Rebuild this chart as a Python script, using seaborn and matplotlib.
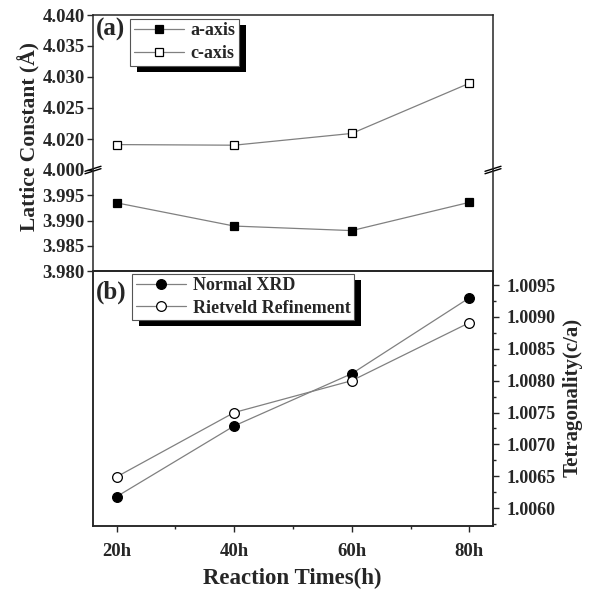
import numpy as np
import matplotlib
matplotlib.use("Agg")
import matplotlib.pyplot as plt
from matplotlib.patches import Rectangle
from matplotlib.ticker import MultipleLocator, FormatStrFormatter
import seaborn as sns

# data
times = [20, 40, 60, 80]
time_labels = ["20h", "40h", "60h", "80h"]
a_axis = [3.9935, 3.9889, 3.9880, 3.9936]
c_axis = [4.0191, 4.0190, 4.0209, 4.0290]
normal_xrd = [1.00618, 1.00729, 1.00811, 1.00930]
rietveld = [1.00649, 1.00750, 1.00800, 1.00891]

sns.set_style("ticks")
plt.rcParams["font.family"] = ["Liberation Serif", "DejaVu Serif"]
plt.rcParams["font.weight"] = "bold"
plt.rcParams["axes.linewidth"] = 1.1
plt.rcParams["xtick.direction"] = "out"
plt.rcParams["ytick.direction"] = "out"

W, H = 591, 592
fig = plt.figure(figsize=(W / 100, H / 100), dpi=100)


def px_axes(x0, y0, x1, y1):
    return fig.add_axes([x0 / W, 1 - y1 / H, (x1 - x0) / W, (y1 - y0) / H])


ax_up = px_axes(93, 15, 493, 170)
ax_lo = px_axes(93, 170, 493, 271)
ax_b = px_axes(93, 271, 493, 526)

TICK_FS = 13.5
line_kw = dict(color="#808080", linewidth=0.9, markeredgewidth=0.9, markeredgecolor="black")
leg_kw = dict(loc="upper left", frameon=True, fancybox=False, edgecolor="#555555",
              framealpha=1, prop={"size": 13, "weight": "bold"}, handlelength=2.8,
              borderpad=0.2, labelspacing=0.3, handletextpad=0.35, borderaxespad=0)

for ax in (ax_up, ax_lo):
    sns.lineplot(x=times, y=a_axis, ax=ax, marker="s", markersize=6.3,
                 markerfacecolor="black", label="a-axis", **line_kw)
    sns.lineplot(x=times, y=c_axis, ax=ax, marker="s", markersize=6.3,
                 markerfacecolor="white", label="c-axis", **line_kw)
    ax.set_xlim(16, 84)
    ax.set_xticks([])
    ax.set_xlabel("")
    ax.set_ylabel("")
    ax.tick_params(axis="y", labelsize=TICK_FS, length=4, width=1.0, pad=2)
    ax.yaxis.set_major_formatter(FormatStrFormatter("%.3f"))

ax_up.set_ylim(4.015, 4.040)
ax_up.set_yticks([4.020, 4.025, 4.030, 4.035, 4.040])
ax_up.spines["bottom"].set_visible(False)
ax_lo.set_ylim(3.980, 4.000)
ax_lo.set_yticks([3.980, 3.985, 3.990, 3.995, 4.000])
ax_lo.spines["top"].set_visible(False)
ax_lo.get_legend().remove()

# break marks
for xa in (0, 1):
    for dy in (-0.012, 0.012):
        ax_lo.plot([xa - 0.02, xa + 0.02], [1 + dy - 0.025, 1 + dy + 0.025],
                   transform=ax_lo.transAxes, color="black", lw=1.0, clip_on=False)

leg_a = ax_up.legend(bbox_to_anchor=(0.093, 0.975), **leg_kw)
leg_a.get_frame().set_linewidth(0.8)
ax_up.text(0.008, 0.87, "(a)", transform=ax_up.transAxes, fontsize=18, fontweight="bold")

fig.text(29 / W, 1 - 137 / H, "Lattice Constant (Å)", rotation=90, ha="center", va="center",
         fontsize=15.5, fontweight="bold")

# bottom panel
axr = ax_b.twinx()
ax_b.set_yticks([])
sns.lineplot(x=times, y=normal_xrd, ax=axr, marker="o", markersize=7,
             markerfacecolor="black", label="Normal XRD", **line_kw)
sns.lineplot(x=times, y=rietveld, ax=axr, marker="o", markersize=7,
             markerfacecolor="white", label="Rietveld Refinement", **line_kw)
axr.set_ylim(1.00572, 1.00972)
axr.yaxis.set_major_locator(MultipleLocator(0.0005))
axr.yaxis.set_minor_locator(MultipleLocator(0.00025))
axr.yaxis.set_major_formatter(FormatStrFormatter("%.4f"))
axr.tick_params(axis="y", which="major", labelsize=13, length=4, width=1.0, pad=6)
axr.tick_params(axis="y", which="minor", length=2.5, width=1.0)
axr.set_ylabel("")
fig.text(573 / W, 1 - 397 / H, "Tetragonality(c/a)", rotation=90, ha="center", va="center",
         fontsize=15, fontweight="bold")
ax_b.set_xlim(16, 84)
axr.set_xlim(16, 84)
ax_b.set_xticks(times)
ax_b.set_xticklabels(time_labels)
ax_b.xaxis.set_minor_locator(MultipleLocator(10))
ax_b.tick_params(axis="x", which="major", labelsize=TICK_FS, length=4, width=1.0, pad=8)
ax_b.tick_params(axis="x", which="minor", length=2.5, width=1.0)
ax_b.set_xlabel("")
fig.text(292 / W, 1 - 578 / H, "Reaction Times(h)", ha="center", va="center",
         fontsize=16.5, fontweight="bold")
for sp in axr.spines.values():
    sp.set_linewidth(1.1)

leg_b = axr.legend(bbox_to_anchor=(0.098, 0.99), **leg_kw)
leg_b.get_frame().set_linewidth(0.8)
axr.text(0.008, 0.89, "(b)", transform=ax_b.transAxes, fontsize=18, fontweight="bold")

# black drop shadows behind the legends
fig.canvas.draw()
inv = fig.transFigure.inverted()
for leg, ax in ((leg_a, ax_up), (leg_b, axr)):
    bb = leg.get_window_extent()
    (x0, y0), (x1, y1) = inv.transform([(bb.x0 + 7, bb.y0 - 6), (bb.x1 + 7, bb.y1 - 6)])
    fig.patches.append(Rectangle((x0, y0), x1 - x0, y1 - y0, transform=fig.transFigure,
                                 facecolor="black", edgecolor="none", zorder=0.5))
    leg.set_zorder(10)
    ax.set_zorder(2)

ax_up.patch.set_alpha(0)
axr.patch.set_alpha(0)
ax_b.patch.set_alpha(0)
fig.savefig("out.png", dpi=100)
